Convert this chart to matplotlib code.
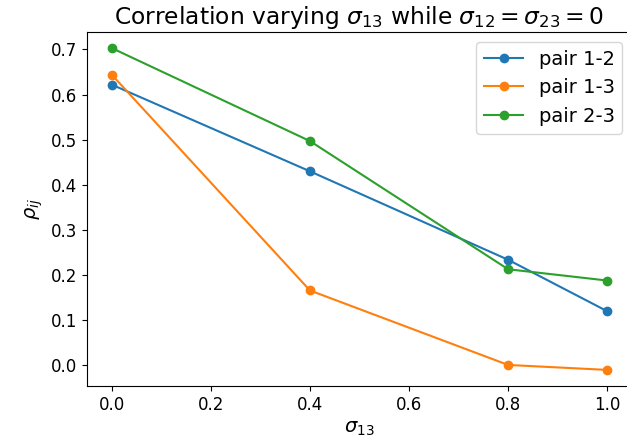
import matplotlib
matplotlib.use("Agg")
import matplotlib.pyplot as plt

sigma13 = [0.0, 0.4, 0.8, 1.0]
pair_12 = [0.622, 0.430, 0.234, 0.120]
pair_13 = [0.644, 0.166, 0.001, -0.010]
pair_23 = [0.703, 0.497, 0.213, 0.188]
labels = ["pair 1-2", "pair 1-3", "pair 2-3"]

plt.rcParams['font.size'] = 14
plt.rcParams['xtick.labelsize'] = 12
plt.rcParams['ytick.labelsize'] = 12
fig = plt.figure(figsize=(6.27, 4.48), dpi=100)
ax = fig.add_axes([87/627, 62/448, 545/627, 354/448])
for vals, lab in zip([pair_12, pair_13, pair_23], labels):
    ax.plot(sigma13, vals, marker='o', label=lab)
ax.set_title(r"Correlation varying $\sigma_{13}$ while $\sigma_{12} = \sigma_{23} = 0$", fontsize=16.8)
ax.set_xlabel(r"$\sigma_{13}$")
ax.set_ylabel(r"$\rho_{ij}$")
ax.legend(loc='upper right', fontsize=14)
fig.savefig("out.png", dpi=100)
